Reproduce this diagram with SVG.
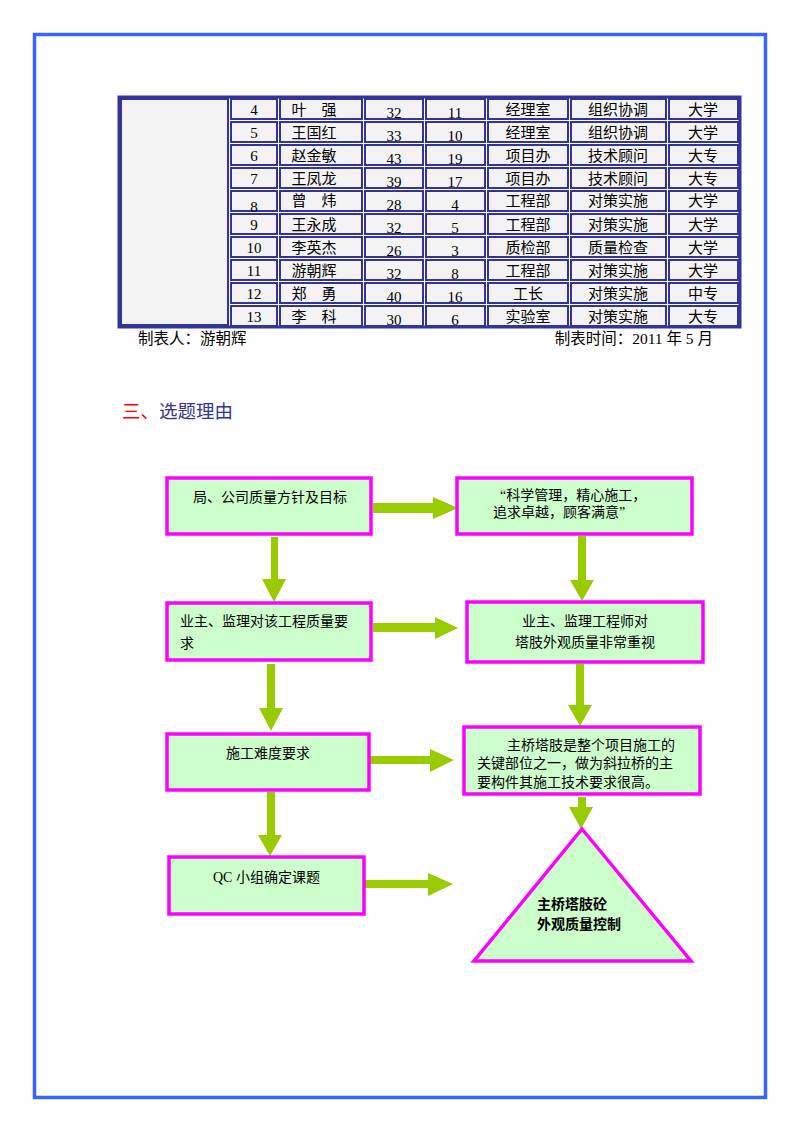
<svg xmlns="http://www.w3.org/2000/svg" width="800" height="1132" viewBox="0 0 800 1132">
<style>
.cell{fill:#f3f3f3;stroke:#333399;stroke-width:2}
.tt{font-family:"Liberation Serif","Noto Sans CJK SC",serif;font-size:15px;fill:#000;text-anchor:middle}
.ft{font-family:"Liberation Serif","Noto Sans CJK SC",serif;font-size:15.5px;fill:#000}
.box{fill:#ccffcc;stroke:#ff00ff;stroke-width:3.5}
.bt{font-family:"Liberation Serif","Noto Sans CJK SC",serif;font-size:14px;fill:#000}
.arr{fill:#99cc00}
</style>
<rect x="34.5" y="34.5" width="731" height="1063" fill="none" stroke="#3366ff" stroke-width="3.5"/>
<g id="table">
<rect x="119" y="97" width="621" height="230" fill="#fff" stroke="#333399" stroke-width="3"/>
<rect class="cell" x="121" y="99" width="107" height="226"/>
<g id="rows">
<g transform="translate(0,97)">
<rect class="cell" x="231" y="2" width="46" height="20"/><rect class="cell" x="280" y="2" width="82" height="20"/><rect class="cell" x="365" y="2" width="58" height="20"/><rect class="cell" x="426" y="2" width="59" height="20"/><rect class="cell" x="488" y="2" width="80" height="20"/><rect class="cell" x="571" y="2" width="95" height="20"/><rect class="cell" x="669" y="2" width="69" height="20"/>
<text class="tt" x="254" y="18">4</text><text class="tt" x="314" y="18">叶　强</text><text class="tt" x="394" y="21">32</text><text class="tt" x="455" y="21">11</text><text class="tt" x="528" y="18">经理室</text><text class="tt" x="618" y="18">组织协调</text><text class="tt" x="703" y="18">大学</text>
</g>
<g transform="translate(0,120)">
<rect class="cell" x="231" y="2" width="46" height="20"/><rect class="cell" x="280" y="2" width="82" height="20"/><rect class="cell" x="365" y="2" width="58" height="20"/><rect class="cell" x="426" y="2" width="59" height="20"/><rect class="cell" x="488" y="2" width="80" height="20"/><rect class="cell" x="571" y="2" width="95" height="20"/><rect class="cell" x="669" y="2" width="69" height="20"/>
<text class="tt" x="254" y="18">5</text><text class="tt" x="314" y="18">王国红</text><text class="tt" x="394" y="21">33</text><text class="tt" x="455" y="21">10</text><text class="tt" x="528" y="18">经理室</text><text class="tt" x="618" y="18">组织协调</text><text class="tt" x="703" y="18">大学</text>
</g>
<g transform="translate(0,143)">
<rect class="cell" x="231" y="2" width="46" height="20"/><rect class="cell" x="280" y="2" width="82" height="20"/><rect class="cell" x="365" y="2" width="58" height="20"/><rect class="cell" x="426" y="2" width="59" height="20"/><rect class="cell" x="488" y="2" width="80" height="20"/><rect class="cell" x="571" y="2" width="95" height="20"/><rect class="cell" x="669" y="2" width="69" height="20"/>
<text class="tt" x="254" y="18">6</text><text class="tt" x="314" y="18">赵金敏</text><text class="tt" x="394" y="21">43</text><text class="tt" x="455" y="21">19</text><text class="tt" x="528" y="18">项目办</text><text class="tt" x="618" y="18">技术顾问</text><text class="tt" x="703" y="18">大专</text>
</g>
<g transform="translate(0,166)">
<rect class="cell" x="231" y="2" width="46" height="20"/><rect class="cell" x="280" y="2" width="82" height="20"/><rect class="cell" x="365" y="2" width="58" height="20"/><rect class="cell" x="426" y="2" width="59" height="20"/><rect class="cell" x="488" y="2" width="80" height="20"/><rect class="cell" x="571" y="2" width="95" height="20"/><rect class="cell" x="669" y="2" width="69" height="20"/>
<text class="tt" x="254" y="18">7</text><text class="tt" x="314" y="18">王凤龙</text><text class="tt" x="394" y="21">39</text><text class="tt" x="455" y="21">17</text><text class="tt" x="528" y="18">项目办</text><text class="tt" x="618" y="18">技术顾问</text><text class="tt" x="703" y="18">大专</text>
</g>
<g transform="translate(0,189)">
<rect class="cell" x="231" y="2" width="46" height="20"/><rect class="cell" x="280" y="2" width="82" height="20"/><rect class="cell" x="365" y="2" width="58" height="20"/><rect class="cell" x="426" y="2" width="59" height="20"/><rect class="cell" x="488" y="2" width="80" height="20"/><rect class="cell" x="571" y="2" width="95" height="20"/><rect class="cell" x="669" y="2" width="69" height="20"/>
<text class="tt" x="254" y="23">8</text><text class="tt" x="314" y="17">曾　炜</text><text class="tt" x="394" y="21">28</text><text class="tt" x="455" y="21">4</text><text class="tt" x="528" y="17">工程部</text><text class="tt" x="618" y="17">对策实施</text><text class="tt" x="703" y="17">大学</text>
</g>
<g transform="translate(0,212)">
<rect class="cell" x="231" y="2" width="46" height="20"/><rect class="cell" x="280" y="2" width="82" height="20"/><rect class="cell" x="365" y="2" width="58" height="20"/><rect class="cell" x="426" y="2" width="59" height="20"/><rect class="cell" x="488" y="2" width="80" height="20"/><rect class="cell" x="571" y="2" width="95" height="20"/><rect class="cell" x="669" y="2" width="69" height="20"/>
<text class="tt" x="254" y="18">9</text><text class="tt" x="314" y="18">王永成</text><text class="tt" x="394" y="21">32</text><text class="tt" x="455" y="21">5</text><text class="tt" x="528" y="18">工程部</text><text class="tt" x="618" y="18">对策实施</text><text class="tt" x="703" y="18">大学</text>
</g>
<g transform="translate(0,235)">
<rect class="cell" x="231" y="2" width="46" height="20"/><rect class="cell" x="280" y="2" width="82" height="20"/><rect class="cell" x="365" y="2" width="58" height="20"/><rect class="cell" x="426" y="2" width="59" height="20"/><rect class="cell" x="488" y="2" width="80" height="20"/><rect class="cell" x="571" y="2" width="95" height="20"/><rect class="cell" x="669" y="2" width="69" height="20"/>
<text class="tt" x="254" y="18">10</text><text class="tt" x="314" y="18">李英杰</text><text class="tt" x="394" y="21">26</text><text class="tt" x="455" y="21">3</text><text class="tt" x="528" y="18">质检部</text><text class="tt" x="618" y="18">质量检查</text><text class="tt" x="703" y="18">大学</text>
</g>
<g transform="translate(0,258)">
<rect class="cell" x="231" y="2" width="46" height="20"/><rect class="cell" x="280" y="2" width="82" height="20"/><rect class="cell" x="365" y="2" width="58" height="20"/><rect class="cell" x="426" y="2" width="59" height="20"/><rect class="cell" x="488" y="2" width="80" height="20"/><rect class="cell" x="571" y="2" width="95" height="20"/><rect class="cell" x="669" y="2" width="69" height="20"/>
<text class="tt" x="254" y="18">11</text><text class="tt" x="314" y="18">游朝辉</text><text class="tt" x="394" y="21">32</text><text class="tt" x="455" y="21">8</text><text class="tt" x="528" y="18">工程部</text><text class="tt" x="618" y="18">对策实施</text><text class="tt" x="703" y="18">大学</text>
</g>
<g transform="translate(0,281)">
<rect class="cell" x="231" y="2" width="46" height="20"/><rect class="cell" x="280" y="2" width="82" height="20"/><rect class="cell" x="365" y="2" width="58" height="20"/><rect class="cell" x="426" y="2" width="59" height="20"/><rect class="cell" x="488" y="2" width="80" height="20"/><rect class="cell" x="571" y="2" width="95" height="20"/><rect class="cell" x="669" y="2" width="69" height="20"/>
<text class="tt" x="254" y="18">12</text><text class="tt" x="314" y="18">郑　勇</text><text class="tt" x="394" y="21">40</text><text class="tt" x="455" y="21">16</text><text class="tt" x="528" y="18">工长</text><text class="tt" x="618" y="18">对策实施</text><text class="tt" x="703" y="18">中专</text>
</g>
<g transform="translate(0,304)">
<rect class="cell" x="231" y="2" width="46" height="20"/><rect class="cell" x="280" y="2" width="82" height="20"/><rect class="cell" x="365" y="2" width="58" height="20"/><rect class="cell" x="426" y="2" width="59" height="20"/><rect class="cell" x="488" y="2" width="80" height="20"/><rect class="cell" x="571" y="2" width="95" height="20"/><rect class="cell" x="669" y="2" width="69" height="20"/>
<text class="tt" x="254" y="18">13</text><text class="tt" x="314" y="18">李　科</text><text class="tt" x="394" y="21">30</text><text class="tt" x="455" y="21">6</text><text class="tt" x="528" y="18">实验室</text><text class="tt" x="618" y="18">对策实施</text><text class="tt" x="703" y="18">大专</text>
</g>
</g>
<text class="ft" x="138" y="344">制表人：游朝辉</text>
<text class="ft" x="713" y="344" text-anchor="end">制表时间：2011 年 5 月</text>
</g>
<text x="122" y="418" font-family="'Noto Sans CJK SC',sans-serif" font-size="18.5"><tspan fill="#ff0000">三、</tspan><tspan fill="#333399">选题理由</tspan></text>
<g id="connectors">
<polygon class="arr" points="373,503 433,503 433,497 458,508 433,519 433,513 373,513"/>
<polygon class="arr" points="373,623 435,623 435,617 458,628 435,639 435,632 373,632"/>
<polygon class="arr" points="370,756 430,756 430,749 454,760 430,772 430,764 370,764"/>
<polygon class="arr" points="365,880 428,880 428,873 453,884 428,896 428,888 365,888"/>
<polygon class="arr" points="271,537 278,537 278,579 286,579 274,602 262,579 271,579"/>
<polygon class="arr" points="578,536 586,536 586,580 594,580 582,601 570,580 578,580"/>
<polygon class="arr" points="267,664 275,664 275,708 283,708 271,731 259,708 267,708"/>
<polygon class="arr" points="267,792 275,792 275,835 282,835 270,856 258,835 267,835"/>
<polygon class="arr" points="576,664 584,664 584,705 592,705 580,726 568,705 576,705"/>
<polygon class="arr" points="578,797 586,797 586,807 593,807 581,829 569,807 578,807"/>
</g>
<g id="n1"><rect class="box" x="167" y="478" width="204" height="56"/><text class="bt" x="270" y="502" text-anchor="middle">局、公司质量方针及目标</text></g>
<g id="n2"><rect class="box" x="457" y="478" width="235" height="56"/><text class="bt" x="500" y="500">“科学管理，精心施工，</text><text class="bt" x="493" y="517">追求卓越，顾客满意”</text></g>
<g id="n3"><rect class="box" x="167" y="603" width="204" height="57"/><text class="bt" x="180" y="626">业主、监理对该工程质量要</text><text class="bt" x="180" y="648">求</text></g>
<g id="n4"><rect class="box" x="467" y="602" width="236" height="60"/><text class="bt" x="585" y="626" text-anchor="middle">业主、监理工程师对</text><text class="bt" x="585" y="647" text-anchor="middle">塔肢外观质量非常重视</text></g>
<g id="n5"><rect class="box" x="167" y="734" width="202" height="56"/><text class="bt" x="268" y="758" text-anchor="middle">施工难度要求</text></g>
<g id="n6"><rect class="box" x="169" y="857" width="195" height="57"/><text class="bt" x="213" y="882">QC 小组确定课题</text></g>
<g id="n7"><rect class="box" x="464" y="727" width="236" height="67"/><text class="bt" x="507" y="750">主桥塔肢是整个项目施工的</text><text class="bt" x="477" y="768">关键部位之一，做为斜拉桥的主</text><text class="bt" x="477" y="787">要构件其施工技术要求很高。</text></g>
<g id="n8"><polygon class="box" points="582,829 691,961 474,961"/><text class="bt" x="537" y="909" font-weight="bold">主桥塔肢砼</text><text class="bt" x="537" y="929" font-weight="bold">外观质量控制</text></g>
</svg>
